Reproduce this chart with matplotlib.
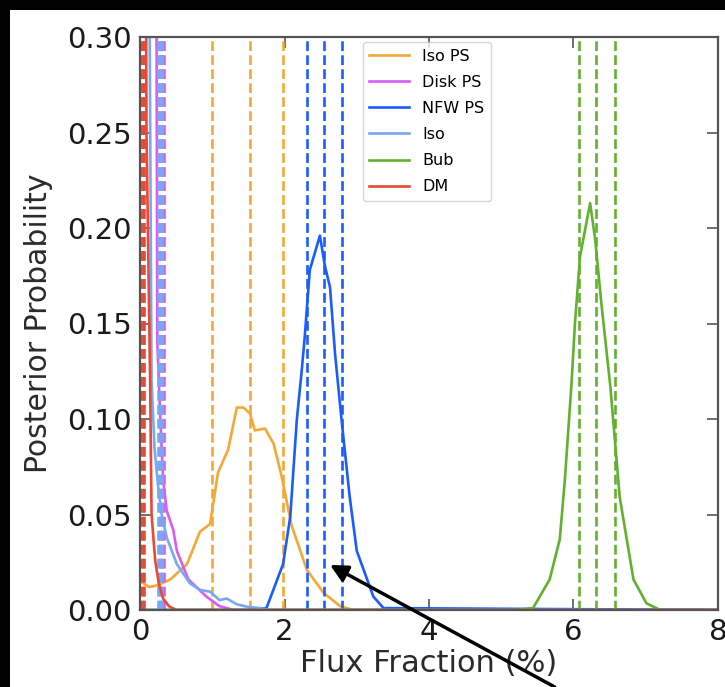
import matplotlib
matplotlib.use("Agg")
import matplotlib.pyplot as plt
from matplotlib.patches import Rectangle

# posterior curves
iso_ps_x = [0.0, 0.05, 0.13, 0.25, 0.42, 0.65, 0.83, 0.97, 1.08, 1.22, 1.34, 1.43,
            1.52, 1.59, 1.73, 1.85, 1.96, 2.10, 2.31, 2.54, 2.77, 2.95, 8.0]
iso_ps_y = [0.015, 0.014, 0.012, 0.013, 0.016, 0.024, 0.041, 0.045, 0.072, 0.084,
            0.106, 0.106, 0.103, 0.094, 0.095, 0.087, 0.070, 0.044, 0.021, 0.009,
            0.002, 0.0, 0.0]

disk_ps_x = [0.0, 0.22, 0.24, 0.28, 0.32, 0.37, 0.46, 0.51, 0.67, 0.92, 1.1, 1.3, 8.0]
disk_ps_y = [1.2, 0.45, 0.14, 0.101, 0.068, 0.052, 0.042, 0.031, 0.016, 0.007,
             0.002, 0.0, 0.0]

nfw_ps_x = [0.0, 1.5, 1.75, 1.98, 2.08, 2.17, 2.24, 2.28, 2.35, 2.49, 2.56, 2.63,
            2.70, 2.79, 2.90, 3.00, 3.23, 3.37, 8.0]
nfw_ps_y = [0.0, 0.0, 0.001, 0.024, 0.049, 0.0995, 0.126, 0.143, 0.178, 0.196,
            0.180, 0.169, 0.134, 0.0995, 0.060, 0.031, 0.007, 0.001, 0.0]

iso_x = [0.0, 0.12, 0.16, 0.20, 0.25, 0.30, 0.37, 0.51, 0.69, 0.83, 0.97, 1.1,
         1.2, 1.34, 1.48, 1.66, 1.8, 8.0]
iso_y = [1.0, 0.4, 0.12, 0.085, 0.065, 0.050, 0.038, 0.024, 0.014, 0.0105,
         0.0096, 0.0052, 0.006, 0.003, 0.0017, 0.001, 0.0, 0.0]

bub_x = [0.0, 5.2, 5.44, 5.67, 5.81, 5.88, 5.97, 6.02, 6.09, 6.23, 6.30, 6.39,
         6.51, 6.64, 6.83, 7.01, 7.2, 8.0]
bub_y = [0.0, 0.0, 0.001, 0.016, 0.037, 0.068, 0.117, 0.150, 0.185, 0.213,
         0.194, 0.159, 0.117, 0.059, 0.016, 0.0035, 0.0, 0.0]

dm_x = [0.0, 0.07, 0.09, 0.14, 0.16, 0.21, 0.26, 0.32, 0.40, 0.50, 8.0]
dm_y = [1.5, 0.5, 0.25, 0.12, 0.05, 0.026, 0.014, 0.006, 0.002, 0.0, 0.0]

# 16/50/84 % quantiles (dashed lines)
iso_ps_q = [0.99, 1.52, 1.98]
disk_ps_q = [0.27, 0.30, 0.33]
nfw_ps_q = [2.31, 2.54, 2.80]
iso_q = [0.25, 0.28, 0.31]
bub_q = [6.08, 6.31, 6.57]
dm_q = [0.015, 0.035, 0.06]

labels = ['Iso PS', 'Disk PS', 'NFW PS', 'Iso', 'Bub', 'DM']
colors = ['#f5a833', '#d65cf2', '#1a5cff', '#78a8f2', '#62b030', '#e64a35']

curves = [(iso_ps_x, iso_ps_y), (disk_ps_x, disk_ps_y), (nfw_ps_x, nfw_ps_y),
          (iso_x, iso_y), (bub_x, bub_y), (dm_x, dm_y)]
quants = [iso_ps_q, disk_ps_q, nfw_ps_q, iso_q, bub_q, dm_q]

fig = plt.figure(figsize=(7.25, 6.87), dpi=100)
fig.patch.set_facecolor('black')
fig.add_artist(Rectangle((10/725, 0), 1, 1 - 10/687, transform=fig.transFigure,
                         facecolor='white', edgecolor='none', zorder=-10))

ax = fig.add_axes([140/725, 1 - 610/687, 578/725, 573/687])

for (x, y), q, lab, c in zip(curves, quants, labels, colors):
    ax.plot(x, y, color=c, lw=1.9, label=lab)
    for v in q:
        ax.axvline(v, color=c, lw=1.9, ls='--')

ax.set_xlim(0, 8)
ax.set_ylim(0, 0.30)
ax.set_xticks([0, 2, 4, 6, 8])
ax.set_yticks([0, 0.05, 0.10, 0.15, 0.20, 0.25, 0.30])
ax.set_yticklabels(['%.2f' % v for v in ax.get_yticks()])
ax.tick_params(direction='in', top=True, right=True, length=8, width=1.2,
               color='#555555', labelsize=21, labelcolor='#1a1a1a', pad=6)
for s in ax.spines.values():
    s.set_color('#555555')
    s.set_linewidth(1.6)

ax.set_xlabel('Flux Fraction (%)', fontsize=22, color='#2a2a2a', labelpad=2)
ax.set_ylabel('Posterior Probability', fontsize=21.5, color='#2a2a2a', labelpad=10)

leg = ax.legend(loc='upper left', bbox_to_anchor=(0.386, 0.991), borderaxespad=0,
                fontsize=11.5, handlelength=2.5, labelspacing=0.7, framealpha=0.8)

ax.annotate('', xy=(2.63, 0.0236), xytext=(5.74, -0.0403), annotation_clip=False,
            arrowprops=dict(arrowstyle='-|>', color='black', lw=2.5,
                            mutation_scale=26, shrinkA=0, shrinkB=0))

fig.savefig('out.png', dpi=100, facecolor=fig.get_facecolor())
